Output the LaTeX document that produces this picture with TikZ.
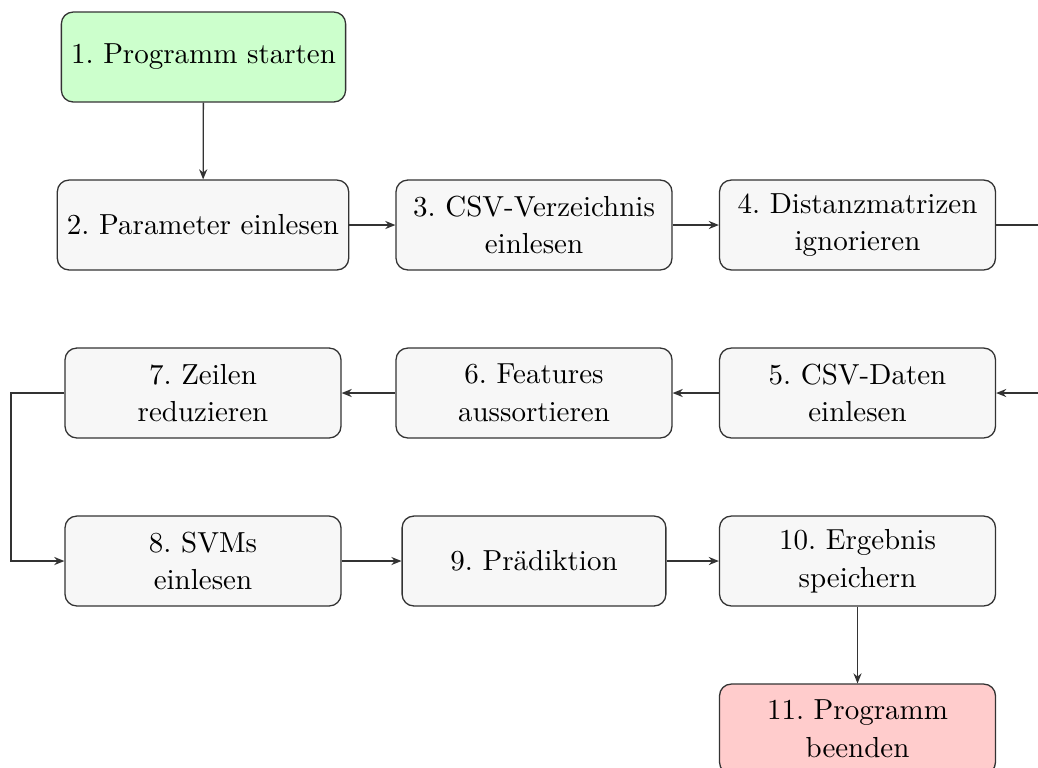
\documentclass[tikz,border=0pt]{standalone}
\usetikzlibrary{arrows.meta}
\frenchspacing
\begin{document}
\begin{tikzpicture}[x=0.345pt, y=-0.345pt,
  stepbox/.style={draw=black!80, rounded corners=4pt, fill=gray!6,
    minimum width=95.2pt, minimum height=31pt, align=center,
    font=\fontsize{10}{13}\selectfont, line width=0.45pt},
  startbox/.style={stepbox, fill=green!20, minimum width=0pt},
  endbox/.style={stepbox, fill=red!20},
  flow/.style={draw=black!80, line width=0.45pt, -{Stealth[length=3.5pt,width=2.8pt]}}
]
\useasboundingbox (0,0) rectangle (1038,767);

\node[startbox] (n1) at (203.5,57) {1. Programm starten};
\node[stepbox, minimum width=0pt] (n2) at (203,225) {2. Parameter einlesen};
\node[stepbox] (n3) at (534,225) {3. CSV-Verzeichnis\\einlesen};
\node[stepbox] (n4) at (857.5,225) {4. Distanzmatrizen\\ignorieren};

\node[stepbox] (n5) at (857.5,393) {5. CSV-Daten\\einlesen};
\node[stepbox] (n6) at (534,393) {6. Features\\aussortieren};
\node[stepbox] (n7) at (203,393) {7. Zeilen\\reduzieren};

\node[stepbox] (n8) at (203,561) {8. SVMs\\einlesen};
\node[stepbox, minimum width=91pt] (n9) at (534,561) {9. Prädiktion};
\node[stepbox] (n10) at (857.5,561) {10. Ergebnis\\speichern};

\node[endbox] (n11) at (857.5,729) {11. Programm\\beenden};

\coordinate (rturn) at (1060,0);
\coordinate (lturn) at (11,0);

\draw[flow] (n1) -- (n2);
\draw[flow] (n2) -- (n3);
\draw[flow] (n3) -- (n4);
\draw[flow] (n4.east) -- (n4.east -| rturn) -- (n5.east -| rturn) -- (n5.east);
\draw[flow] (n5) -- (n6);
\draw[flow] (n6) -- (n7);
\draw[flow] (n7.west) -- (n7.west -| lturn) -- (n8.west -| lturn) -- (n8.west);
\draw[flow] (n8) -- (n9);
\draw[flow] (n9) -- (n10);
\draw[flow] (n10) -- (n11);
\end{tikzpicture}
\end{document}
